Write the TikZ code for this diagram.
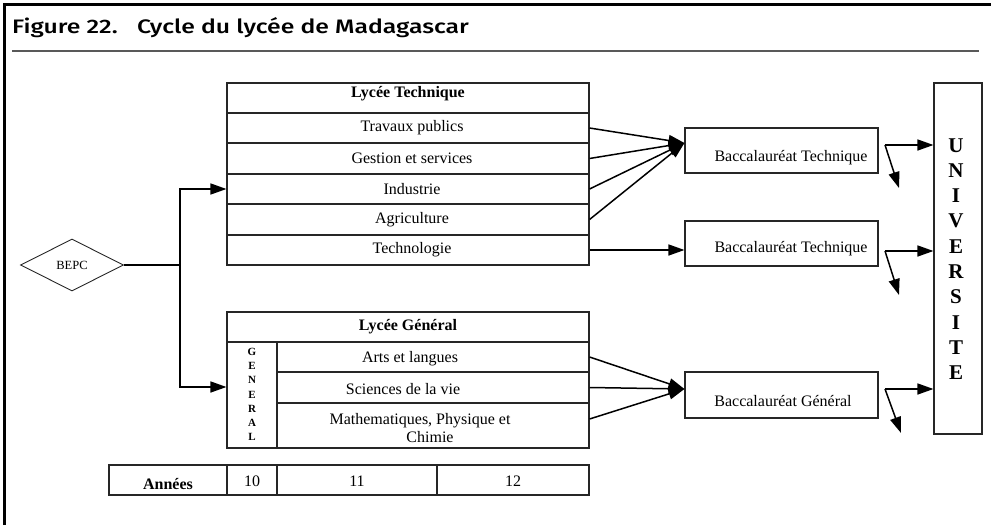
\documentclass[tikz,border=0pt]{standalone}
\usepackage{graphicx}
\usepackage{fontspec}
\setmainfont{Liberation Serif}
\newfontfamily\titlefont{Fira Sans Medium}
\usetikzlibrary{arrows.meta,shapes.geometric}
\begin{document}
\begin{tikzpicture}[x=1pt,y=-1pt,
  cell/.style={draw=black!85, line width=1.1pt, rectangle, inner sep=0pt,
               font=\fontsize{16}{18}\selectfont},
  lbl/.style={inner sep=0pt, font=\fontsize{16}{18}\selectfont},
  head/.style={lbl, font=\bfseries\fontsize{16}{18}\selectfont},
  link/.style={line width=1.5pt},
  arr/.style={line width=1.5pt, -{Triangle[length=16pt,width=11pt]}},
]
\useasboundingbox (0,0) rectangle (991,525);

% page frame and title
\draw[line width=3pt] (4,525) -- (4,4.5) -- (991,4.5);
\node[anchor=base west, inner sep=0pt, font=\titlefont\fontsize{19.5}{21}\selectfont]
  (title) at (12,33) {\scalebox{1.27}[1]{Figure 22.\hspace{0.45em} Cycle du lycée de Madagascar}};
\draw[line width=2pt, black!65] (12,51) -- (979,51);

% entry point
\node[diamond, draw=black!85, line width=0.9pt, aspect=2, inner sep=0pt,
      minimum width=103pt, minimum height=52pt, font=\fontsize{12.5}{14}\selectfont]
  (bepc) at (72,265) {BEPC};

% technical high school
\node[cell, minimum width=362pt, minimum height=30pt, text height=11pt, text depth=12pt,
      font=\bfseries\fontsize{16}{18}\selectfont] (lt) at (408,98) {Lycée Technique};
\node[cell, minimum width=362pt, minimum height=30pt] (tp) at (408,128) {\hspace*{8pt}Travaux publics};
\node[cell, minimum width=362pt, minimum height=31pt] (gs) at (408,158.5) {\hspace*{8pt}Gestion et services};
\node[cell, minimum width=362pt, minimum height=30pt] (ind) at (408,189) {\hspace*{8pt}Industrie};
\node[cell, minimum width=362pt, minimum height=31pt] (ag) at (408,219.5) {\hspace*{8pt}Agriculture};
\node[cell, minimum width=362pt, minimum height=30pt] (te) at (408,250) {\hspace*{8pt}Technologie};

% general high school
\node[cell, minimum width=362pt, minimum height=30pt,
      font=\bfseries\fontsize{16}{18}\selectfont] (lg) at (408,327) {Lycée Général};
\node[cell, minimum width=50pt, minimum height=106pt] (gcol) at (252,395) {};
\node[cell, minimum width=312pt, minimum height=30pt] (arts) at (433,357) {};
\node[cell, minimum width=312pt, minimum height=31pt] (sci) at (433,387.5) {};
\node[cell, minimum width=312pt, minimum height=45pt] (math) at (433,425.5) {};
\node[inner sep=0pt, align=center, font=\bfseries\fontsize{11}{14.2}\selectfont]
  (gtxt) at (252,394.5) {G\\E\\N\\E\\R\\A\\L};
\node[lbl] (artstxt) at (410,359) {Arts et langues};
\node[lbl] (scitxt) at (403,389) {Sciences de la vie};
\node[lbl, align=center] (mathtxt) at (420,428) {Mathematiques, Physique et\\\hspace*{20pt}Chimie};

% years
\node[cell, minimum width=118pt, minimum height=30pt] (an) at (168,480) {};
\node[head] (antxt) at (168,484) {Années};
\node[cell, minimum width=50pt, minimum height=30pt] (y10) at (252,480) {};
\node[cell, minimum width=160pt, minimum height=30pt] (y11) at (357,480) {};
\node[cell, minimum width=152pt, minimum height=30pt] (y12) at (513,480) {};
\node[lbl] (t10) at (252,481) {10};
\node[lbl] (t11) at (357,481) {11};
\node[lbl] (t12) at (513,481) {12};

% baccalaureates
\node[cell, minimum width=193pt, minimum height=45pt] (bt1) at (781.5,150.5) {};
\node[cell, minimum width=193pt, minimum height=45pt] (bt2) at (781.5,243.5) {};
\node[cell, minimum width=193pt, minimum height=46pt] (bg) at (781.5,395) {};
\node[lbl] (bt1txt) at (791,158) {Baccalauréat Technique};
\node[lbl] (bt2txt) at (791,249) {Baccalauréat Technique};
\node[lbl] (bgtxt) at (783,401) {Baccalauréat Général};

% university
\node[cell, minimum width=48pt, minimum height=351pt] (univ) at (958,258.5) {};
\node[inner sep=0pt, align=center, font=\bfseries\fontsize{21}{25.3}\selectfont]
  (utxt) at (956,259) {U\\N\\I\\V\\E\\R\\S\\I\\T\\E};

% from BEPC to both high schools
\coordinate (split) at (180,265);
\draw[link] (bepc.east) -- (split);
\draw[arr] (split) |- (ind.west);
\draw[arr] (split) |- ([yshift=8pt]gcol.west);

% streams to baccalaureates
\foreach \r in {tp,gs,ind,ag}
  \draw[arr] (\r.east) -- ([yshift=7.5pt]bt1.west);
\draw[arr] (te.east) -- (te.east -| bt2.west);
\draw[arr] (arts.east) -- ([yshift=6pt]bg.west);
\draw[arr] (sci.east) -- ([yshift=6pt]bg.west);
\draw[arr] ([yshift=6.5pt]math.east) -- ([yshift=6pt]bg.west);

% after the baccalaureate
\coordinate (u1) at (885,145);
\coordinate (u2) at (885,251);
\coordinate (u3) at (885,389);
\coordinate (d1) at (899,188);
\coordinate (d2) at (899,295);
\coordinate (d3) at (901,433);
\foreach \i in {1,2,3} {
  \draw[arr] (u\i) -- (u\i -| univ.west);
  \draw[arr] (u\i) -- (d\i);
}
\end{tikzpicture}
\end{document}
